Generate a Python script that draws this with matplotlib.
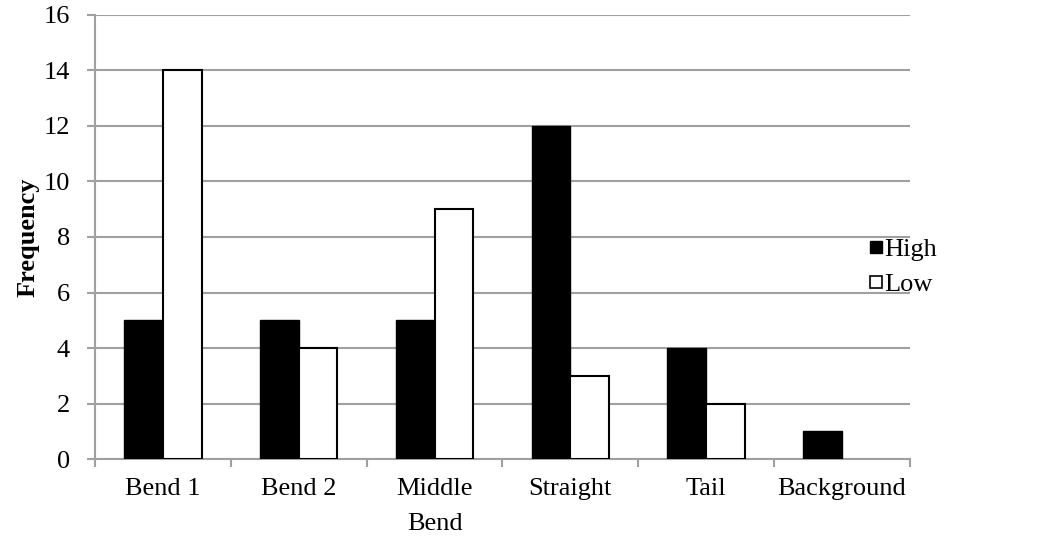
import numpy as np
import matplotlib.pyplot as plt
from matplotlib.lines import Line2D

plt.rcParams['font.family'] = ['Liberation Serif', 'DejaVu Serif']

categories = ['Bend 1', 'Bend 2', 'Middle\nBend', 'Straight', 'Tail', 'Background']
high = [5, 5, 5, 12, 4, 1]
low = [14, 4, 9, 3, 2, 0]

grid_col = '#A0A0A0'

fig = plt.figure(figsize=(10.39, 5.39), dpi=100)
ax = fig.add_axes([0.0914, 0.1484, 0.7844, 0.8238])

x = np.arange(len(categories))
w = 0.285
ax.bar(x - w / 2, high, w, color='black', edgecolor='black', linewidth=1.0, zorder=3)
# no outline for empty bars
low_edges = ['black' if v > 0 else 'none' for v in low]
ax.bar(x + w / 2, low, w, color='white', edgecolor=low_edges, linewidth=1.5, zorder=3)

ax.set_xlim(-0.5, len(categories) - 0.5)
ax.set_ylim(0, 16)
ax.set_yticks(range(0, 17, 2))
ax.yaxis.grid(True, color=grid_col, linewidth=1.5, zorder=0)
ax.set_axisbelow(True)

# category labels between boundary ticks
ax.set_xticks(x)
ax.set_xticklabels(categories, fontsize=19, linespacing=1.75)
ax.tick_params(axis='x', length=0, pad=14)
ax.set_xticks(np.arange(-0.5, len(categories)), minor=True)
ax.tick_params(axis='x', which='minor', length=6, width=1.5, color=grid_col)
ax.tick_params(axis='y', labelsize=19, length=6, width=1.5, color=grid_col, pad=12)

for s in ['top', 'right']:
    ax.spines[s].set_visible(False)
ax.spines['left'].set_color(grid_col)
ax.spines['left'].set_linewidth(1.5)
ax.spines['bottom'].set_color(grid_col)
ax.spines['bottom'].set_linewidth(1.5)

ax.set_ylabel('Frequency', fontsize=19, fontweight='bold', labelpad=3)

handles = [Line2D([], [], linestyle='none', marker='s', markersize=9,
                  markerfacecolor='black', markeredgecolor='black', label='High'),
           Line2D([], [], linestyle='none', marker='s', markersize=9,
                  markerfacecolor='white', markeredgecolor='black',
                  markeredgewidth=1.2, label='Low')]
fig.legend(handles=handles, loc='center left', bbox_to_anchor=(0.813, 0.505),
           frameon=False, fontsize=19, handlelength=0.6,
           handletextpad=0.0, labelspacing=0.45)

fig.savefig('out.png', dpi=100)
